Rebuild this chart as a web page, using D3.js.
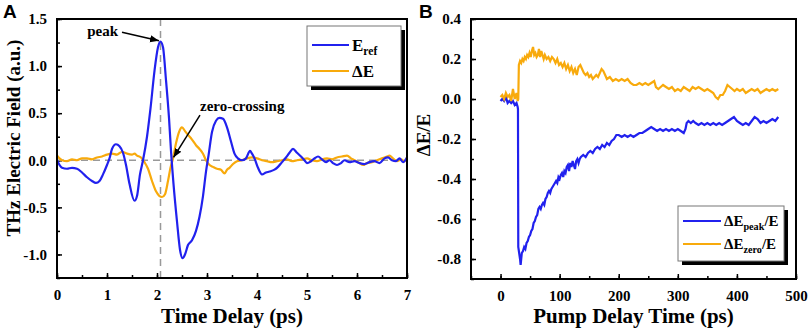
<!DOCTYPE html>
<html><head><meta charset="utf-8">
<script src="https://cdn.jsdelivr.net/npm/d3@7/dist/d3.min.js"></script>
<style>body{margin:0;background:#fff}svg{display:block}</style>
</head><body><svg id="c" width="809" height="334"></svg>
<script>
// ---------- DATA ----------
const tA = [0,0.1,0.2,0.3,0.4,0.5,0.6,0.7,0.78,0.85,0.92,1.0,1.05,1.1,1.18,1.25,1.32,1.38,1.45,1.55,1.6,1.66,1.72,1.8,1.87,1.95,2.02,2.07,2.12,2.18,2.24,2.28,2.33,2.4,2.46,2.51,2.56,2.62,2.7,2.78,2.85,2.92,2.98,3.03,3.1,3.18,3.25,3.32,3.4,3.48,3.55,3.62,3.7,3.78,3.86,3.9,3.95,4.02,4.1,4.18,4.25,4.35,4.42,4.5,4.58,4.65,4.72,4.8,4.88,4.95,5.0,5.08,5.15,5.22,5.3,5.38,5.45,5.52,5.6,5.68,5.75,5.85,5.95,6.05,6.15,6.25,6.35,6.45,6.55,6.62,6.7,6.78,6.85,6.92,7.0];
const eRef = [0.0,-0.08,-0.09,-0.08,-0.09,-0.13,-0.18,-0.22,-0.24,-0.22,-0.15,-0.05,0.02,0.12,0.17,0.15,0.08,-0.05,-0.25,-0.43,-0.38,-0.15,0.0,0.25,0.55,0.95,1.2,1.26,1.2,0.85,0.45,0.1,-0.25,-0.65,-0.95,-1.04,-1.0,-0.9,-0.85,-0.75,-0.6,-0.38,-0.12,0.05,0.3,0.42,0.45,0.44,0.35,0.2,0.07,0.02,0.0,0.02,0.1,0.07,0.02,-0.08,-0.15,-0.13,-0.12,-0.1,-0.07,-0.02,0.03,0.08,0.12,0.08,0.04,0.0,-0.03,-0.01,0.02,0.04,0.01,-0.02,0.0,-0.03,-0.05,-0.03,0.0,-0.02,-0.01,-0.03,-0.04,-0.02,-0.01,-0.03,0.02,0.03,0.0,-0.01,0.02,-0.02,0.03];
const tD = [0,0.05,0.1,0.2,0.3,0.4,0.5,0.6,0.7,0.8,0.9,1.0,1.1,1.2,1.3,1.4,1.5,1.55,1.6,1.68,1.75,1.82,1.9,1.98,2.05,2.1,2.16,2.22,2.27,2.32,2.38,2.44,2.5,2.56,2.62,2.7,2.78,2.85,2.92,2.98,3.05,3.12,3.2,3.28,3.35,3.4,3.45,3.52,3.6,3.7,3.8,3.9,4.0,4.1,4.2,4.3,4.4,4.5,4.6,4.7,4.8,4.9,5.0,5.1,5.2,5.3,5.4,5.5,5.6,5.7,5.8,5.88,5.95,6.05,6.12,6.2,6.3,6.4,6.5,6.6,6.65,6.72,6.8,6.88,6.95,7.0];
const dE = [0.05,0.02,0.0,-0.01,0.01,0.0,0.02,0.02,0.01,0.03,0.04,0.06,0.07,0.06,0.09,0.07,0.06,0.07,0.05,0.03,-0.02,-0.09,-0.22,-0.33,-0.38,-0.39,-0.36,-0.22,-0.08,0.02,0.18,0.3,0.35,0.31,0.27,0.22,0.16,0.12,0.07,0.0,-0.05,-0.07,-0.09,-0.1,-0.14,-0.1,-0.08,-0.04,-0.01,0.0,0.02,0.03,0.02,0.0,-0.01,-0.02,-0.01,0.0,0.01,-0.01,0.0,0.01,0.02,0.0,-0.01,0.01,0.02,0.01,0.03,0.04,0.05,0.02,0.0,-0.03,-0.05,-0.03,-0.02,0.0,0.02,0.04,0.05,0.02,-0.01,0.01,-0.01,0.03];

const tZero = [0,3,6,9,12,15,18,21,24,27,29,30,31,33,35,37,39,41,43,45,47,49,51,53,55,57,59,61,63,65,67,69,71,73,75,78,81,84,87,90,93,96,99,102,105,108,111,114,117,120,123,126,129,132,135,138,141,144,147,150,153,156,159,162,165,168,171,174,177,180,185,190,195,200,205,210,215,220,225,230,235,240,245,250,255,260,263,267,271,275,280,285,290,295,300,305,310,315,320,325,330,335,340,345,350,355,360,364,368,372,376,380,384,388,392,396,400,405,410,415,420,425,430,435,440,445,450,455,460,465,470];
const dEzero = [0.01,0.02,0.0,0.03,0.01,0.02,-0.01,0.05,0.0,0.03,-0.01,0.0,0.17,0.19,0.18,0.2,0.19,0.21,0.2,0.22,0.21,0.23,0.21,0.24,0.26,0.22,0.23,0.21,0.22,0.25,0.21,0.24,0.22,0.2,0.22,0.2,0.21,0.19,0.21,0.2,0.18,0.2,0.17,0.18,0.16,0.18,0.15,0.17,0.14,0.16,0.13,0.15,0.12,0.16,0.17,0.15,0.13,0.12,0.13,0.11,0.12,0.1,0.11,0.12,0.11,0.13,0.15,0.14,0.12,0.1,0.11,0.09,0.1,0.09,0.1,0.09,0.1,0.08,0.07,0.07,0.08,0.07,0.08,0.07,0.08,0.09,0.06,0.05,0.06,0.07,0.06,0.05,0.06,0.04,0.05,0.04,0.06,0.05,0.04,0.06,0.05,0.06,0.05,0.04,0.05,0.04,0.03,0.01,0.0,0.02,0.02,0.04,0.07,0.06,0.05,0.04,0.05,0.04,0.05,0.03,0.04,0.05,0.04,0.05,0.03,0.04,0.05,0.04,0.05,0.04,0.05];
const tPeak = [0,3,6,9,12,15,18,21,24,27,29,29.5,30,32,33,34,35,36,38,40,42,44,46,48,50,52,54,56,58,60,62,64,66,68,70,72,74,76,78,80,82,84,86,88,90,92,94,96,98,100,102,104,106,108,110,112,114,116,118,120,122,124,126,128,130,132,134,136,140,144,148,152,156,160,164,168,172,176,180,184,188,192,196,200,205,210,215,220,225,230,235,240,245,250,255,260,265,270,275,280,285,290,295,300,305,310,313,315,318,322,326,330,335,340,345,350,355,360,365,370,375,380,385,390,395,400,405,410,415,420,425,430,435,440,445,450,455,460,465,470];
const dEpeak = [-0.01,0.0,-0.01,0.01,-0.02,-0.01,-0.02,-0.01,-0.03,-0.02,-0.04,-0.05,-0.74,-0.78,-0.8,-0.83,-0.8,-0.77,-0.76,-0.74,-0.75,-0.72,-0.71,-0.69,-0.68,-0.66,-0.65,-0.62,-0.61,-0.59,-0.58,-0.55,-0.54,-0.55,-0.53,-0.52,-0.53,-0.5,-0.49,-0.47,-0.46,-0.47,-0.45,-0.44,-0.43,-0.42,-0.41,-0.42,-0.39,-0.4,-0.38,-0.37,-0.39,-0.36,-0.37,-0.34,-0.33,-0.36,-0.32,-0.34,-0.31,-0.33,-0.35,-0.31,-0.3,-0.32,-0.3,-0.29,-0.28,-0.29,-0.27,-0.26,-0.27,-0.25,-0.24,-0.25,-0.23,-0.24,-0.22,-0.23,-0.21,-0.2,-0.18,-0.18,-0.19,-0.18,-0.19,-0.18,-0.19,-0.18,-0.17,-0.17,-0.16,-0.15,-0.14,-0.15,-0.16,-0.15,-0.16,-0.15,-0.16,-0.15,-0.16,-0.15,-0.16,-0.17,-0.15,-0.12,-0.11,-0.12,-0.11,-0.12,-0.13,-0.12,-0.13,-0.12,-0.13,-0.12,-0.13,-0.12,-0.13,-0.12,-0.11,-0.1,-0.09,-0.11,-0.12,-0.13,-0.12,-0.13,-0.11,-0.09,-0.1,-0.12,-0.11,-0.12,-0.11,-0.1,-0.11,-0.09];

const xTicksA = [0,1,2,3,4,5,6,7];
const yTicksA = [-1.0,-0.5,0.0,0.5,1.0,1.5];
const yTickLabelsA = ["-1.0","-0.5","0.0","0.5","1.0","1.5"];
const xTicksB = [0,100,200,300,400,500];
const yTicksB = [-0.8,-0.6,-0.4,-0.2,0.0,0.2,0.4];
const yTickLabelsB = ["-0.8","-0.6","-0.4","-0.2","0.0","0.2","0.4"];
const peakT = 2.07;

// ---------- STYLE ----------
const BLUE = "#2121ee", ORANGE = "#f8aa0c";
const SERIF = "'Liberation Serif','Times New Roman',serif";
const svg = d3.select("#c");

function panel(o){
  const g = svg.append("g");
  const x = d3.scaleLinear().domain(o.xd).range([o.l, o.r]);
  const y = d3.scaleLinear().domain(o.yd).range([o.b, o.t]);
  const minorX = d3.range(o.xd[0], o.xd[1]+1e-9, o.xMinor);
  const minorY = d3.range(o.yd[0], o.yd[1]+1e-9, o.yMinor);
  const axB = d3.axisBottom(x).tickValues(minorX).tickSize(-3).tickFormat("");
  const axL = d3.axisLeft(y).tickValues(minorY).tickSize(-3).tickFormat("");
  g.append("g").attr("transform",`translate(0,${o.b})`).call(axB).call(s=>s.select(".domain").remove()).selectAll("line").attr("stroke","#000").attr("stroke-width",1.5);
  g.append("g").attr("transform",`translate(${o.l},0)`).call(axL).call(s=>s.select(".domain").remove()).selectAll("line").attr("stroke","#000").attr("stroke-width",1.5);
  const gx = g.append("g").attr("transform",`translate(0,${o.b})`)
    .call(d3.axisBottom(x).tickValues(o.xt).tickSize(-5).tickPadding(11).tickFormat(d3.format("d")));
  const gy = g.append("g").attr("transform",`translate(${o.l},0)`)
    .call(d3.axisLeft(y).tickValues(o.yt).tickSize(-5).tickPadding(10).tickFormat((d,i)=>o.ytl[i]));
  [gx,gy].forEach(s=>{
    s.select(".domain").remove();
    s.selectAll("line").attr("stroke","#000").attr("stroke-width",1.5);
    s.selectAll("text").attr("font-family",SERIF).attr("font-weight","bold").attr("font-size",15).attr("fill","#000");
  });
  return {g,x,y};
}

function frame(o){
  svg.append("rect").attr("x",o.l).attr("y",o.t).attr("width",o.r-o.l).attr("height",o.b-o.t)
    .attr("fill","none").attr("stroke","#000").attr("stroke-width",2);
}

function legend(x0,y0,w,h,items,fs,lineLen){
  const g = svg.append("g");
  g.append("rect").attr("x",x0+4).attr("y",y0+4).attr("width",w).attr("height",h).attr("fill","#000");
  g.append("rect").attr("x",x0).attr("y",y0).attr("width",w).attr("height",h).attr("fill","#fff").attr("stroke","#777").attr("stroke-width",1);
  items.forEach((it,i)=>{
    const yy = y0 + it.dy;
    g.append("line").attr("x1",x0+5).attr("x2",x0+5+lineLen).attr("y1",yy).attr("y2",yy).attr("stroke",it.c).attr("stroke-width",2.2);
    const t = g.append("text").attr("x",x0+8+lineLen).attr("y",yy+fs*0.35).attr("font-family",SERIF).attr("font-weight","bold").attr("font-size",fs);
    it.parts.forEach(p=>{
      const ts = t.append("tspan").text(p.s);
      if(p.sub){ ts.attr("font-size",fs*0.68).attr("dy",4); }
      else if(p.after){ ts.attr("dy",-4); }
    });
  });
}

// ---------- PANEL A ----------
const oA = {l:57, r:407, t:19, b:278, xd:[0,7], yd:[-1.25,1.5], xMinor:0.5, yMinor:0.25, xt:xTicksA, yt:yTicksA, ytl:yTickLabelsA};
const A = panel(oA);
svg.append("line").attr("x1",A.x(0)).attr("x2",A.x(7)).attr("y1",A.y(0)).attr("y2",A.y(0))
  .attr("stroke","#999").attr("stroke-width",1.5).attr("stroke-dasharray","7,5");
svg.append("line").attr("x1",A.x(peakT)).attr("x2",A.x(peakT)).attr("y1",A.y(-1.25)).attr("y2",A.y(1.5))
  .attr("stroke","#999").attr("stroke-width",1.5).attr("stroke-dasharray","7,5");
const lineA = (tt)=>d3.line().x((d,i)=>A.x(tt[i])).y(d=>A.y(d)).curve(d3.curveMonotoneX);
svg.append("path").attr("d",lineA(tD)(dE)).attr("fill","none").attr("stroke",ORANGE).attr("stroke-width",2.2);
svg.append("path").attr("d",lineA(tA)(eRef)).attr("fill","none").attr("stroke",BLUE).attr("stroke-width",2.2);
frame(oA);

const defs = svg.append("defs");
defs.append("marker").attr("id","ah").attr("viewBox","0 0 10 10").attr("refX",10).attr("refY",5)
  .attr("markerWidth",9).attr("markerHeight",9).attr("markerUnits","userSpaceOnUse").attr("orient","auto")
  .append("path").attr("d","M0,1 L10,5 L0,9 Z").attr("fill","#000");
svg.append("text").attr("x",A.x(1.22)).attr("y",A.y(1.32)).attr("text-anchor","end")
  .attr("font-family",SERIF).attr("font-weight","bold").attr("font-size",15).text("peak");
svg.append("line").attr("x1",A.x(1.3)).attr("y1",A.y(1.36)).attr("x2",A.x(2.04)).attr("y2",A.y(1.27))
  .attr("stroke","#000").attr("stroke-width",1.5).attr("marker-end","url(#ah)");
svg.append("text").attr("x",A.x(2.86)).attr("y",A.y(0.525))
  .attr("font-family",SERIF).attr("font-weight","bold").attr("font-size",15).text("zero-crossing");
svg.append("line").attr("x1",A.x(2.86)).attr("y1",A.y(0.48)).attr("x2",A.x(2.33)).attr("y2",A.y(0.03))
  .attr("stroke","#000").attr("stroke-width",1.5).attr("marker-end","url(#ah)");

legend(307,26,94,60,[
  {c:BLUE, dy:19, parts:[{s:"E"},{s:"ref",sub:true}]},
  {c:ORANGE, dy:45, parts:[{s:"ΔE"}]}
],17,37);

svg.append("text").attr("x",(oA.l+oA.r)/2).attr("y",323).attr("text-anchor","middle")
  .attr("font-family",SERIF).attr("font-weight","bold").attr("font-size",21).text("Time Delay (ps)");
svg.append("text").attr("transform","translate(20,138) rotate(-90)").attr("text-anchor","middle")
  .attr("font-family",SERIF).attr("font-weight","bold").attr("font-size",19).text("THz Electric Field (a.u.)");
svg.append("text").attr("x",3).attr("y",18).attr("font-family","'Liberation Sans',Arial,sans-serif").attr("font-weight","bold").attr("font-size",19).text("A");

// ---------- PANEL B ----------
const oB = {l:471, r:796, t:19, b:279, xd:[-50,500], yd:[-0.9,0.4], xMinor:50, yMinor:0.1, xt:xTicksB, yt:yTicksB, ytl:yTickLabelsB};
const B = panel(oB);
const lineB = (tt)=>d3.line().x((d,i)=>B.x(tt[i])).y(d=>B.y(d));
svg.append("path").attr("d",lineB(tPeak)(dEpeak)).attr("fill","none").attr("stroke",BLUE).attr("stroke-width",2.2);
svg.append("path").attr("d",lineB(tZero)(dEzero)).attr("fill","none").attr("stroke",ORANGE).attr("stroke-width",2.2);
frame(oB);

legend(678,206,106,55,[
  {c:BLUE, dy:15, parts:[{s:"ΔE"},{s:"peak",sub:true},{s:"/E",after:true}]},
  {c:ORANGE, dy:38, parts:[{s:"ΔE"},{s:"zero",sub:true},{s:"/E",after:true}]}
],15,38);

svg.append("text").attr("x",(oB.l+oB.r)/2).attr("y",323).attr("text-anchor","middle")
  .attr("font-family",SERIF).attr("font-weight","bold").attr("font-size",21).text("Pump Delay Time (ps)");
svg.append("text").attr("transform","translate(430,135) rotate(-90)").attr("text-anchor","middle")
  .attr("font-family",SERIF).attr("font-weight","bold").attr("font-size",19).text("ΔE/E");
svg.append("text").attr("x",419).attr("y",18).attr("font-family","'Liberation Sans',Arial,sans-serif").attr("font-weight","bold").attr("font-size",19).text("B");
</script></body></html>
